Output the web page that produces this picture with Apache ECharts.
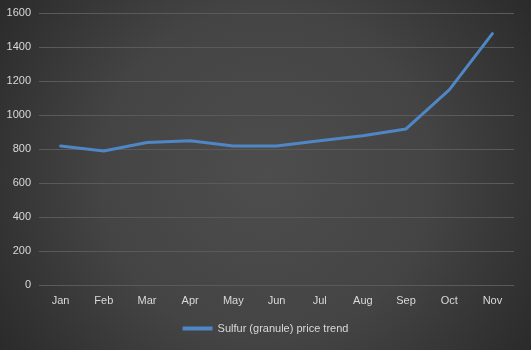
<!DOCTYPE html>
<html><head><meta charset="utf-8">
<script src="https://cdn.jsdelivr.net/npm/echarts@6/dist/echarts.min.js"></script>
<style>html,body{margin:0;padding:0;}#c{width:531px;height:350px;}</style>
</head><body><div id="c"></div>
<script>
var categories = ['Jan','Feb','Mar','Apr','May','Jun','Jul','Aug','Sep','Oct','Nov'];
var seriesName = 'Sulfur (granule) price trend';
var prices = [820, 790, 840, 850, 820, 820, 850, 880, 920, 1150, 1480];
var yTicks = [0, 200, 400, 600, 800, 1000, 1200, 1400, 1600];

var chart = echarts.init(document.getElementById('c'));
var font = 'Liberation Sans';
chart.setOption({
  backgroundColor: {type:'radial', x:0.5, y:0.5, r:0.95,
    colorStops:[{offset:0,color:'#4d4d4d'},{offset:0.5,color:'#444444'},{offset:1,color:'#282828'}]},
  animation:false,
  grid:{left:39, right:17, top:13.3, bottom:64.7, containLabel:false},
  legend:{bottom:11, left:'center', itemWidth:30, itemHeight:4, icon:'rect', itemGap:10,
    textStyle:{color:'#d9d9d9', fontSize:11, fontFamily:font},
    data:[seriesName]},
  xAxis:{type:'category', data:categories, boundaryGap:true,
    axisLine:{show:false}, axisTick:{show:false},
    axisLabel:{color:'#d9d9d9', fontSize:11, fontFamily:font, margin:10}},
  yAxis:{type:'value', min:yTicks[0], max:yTicks[yTicks.length-1], interval:200,
    axisLine:{show:false}, axisTick:{show:false},
    axisLabel:{color:'#d9d9d9', fontSize:11, fontFamily:font, margin:8,
      formatter:function(v){return String(v);}},
    splitLine:{lineStyle:{color:'#5a5a5a', width:1}}},
  series:[{name:seriesName, type:'line', data:prices, symbol:'none', smooth:false,
    lineStyle:{color:'#4f86c6', width:3, cap:'round', join:'round'},
    itemStyle:{color:'#4f86c6'}}]
});
</script></body></html>
